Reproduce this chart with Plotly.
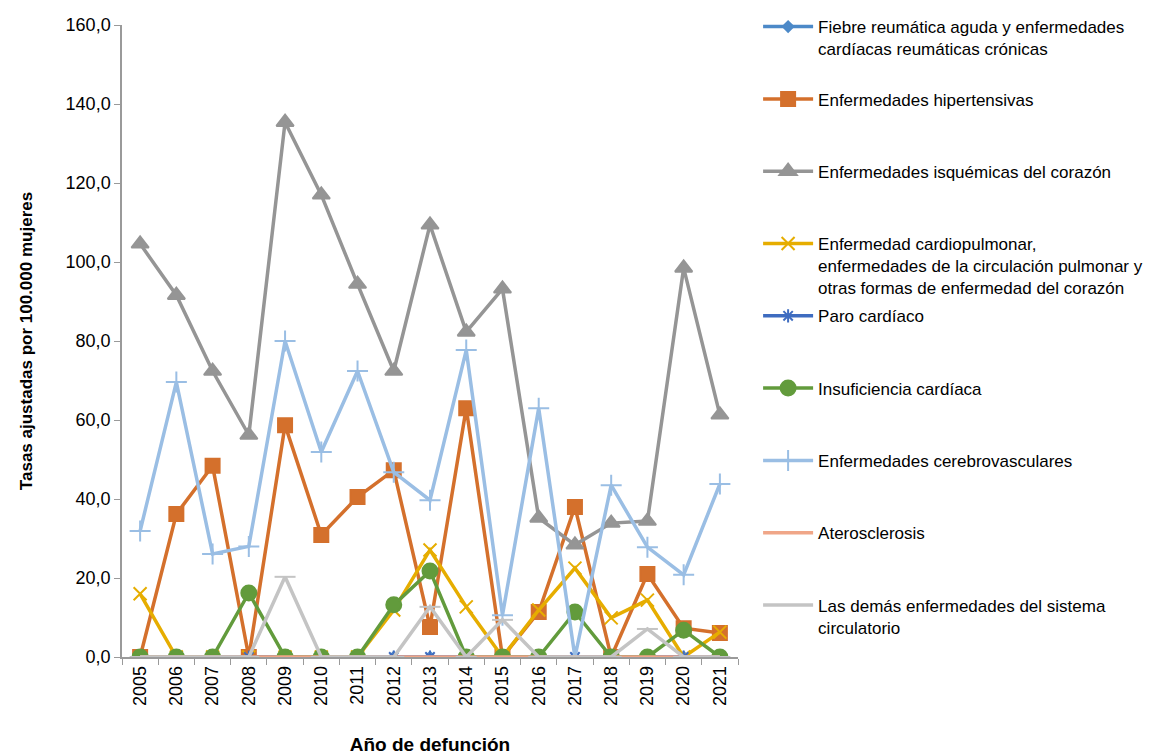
import plotly.graph_objects as go

years = [str(y) for y in range(2005, 2022)]

fiebre = [0.0] * 17
hipertensivas = [0.0, 36.2, 48.4, 0.0, 58.7, 30.9, 40.5, 47.3, 7.6, 63.0, 0.0, 11.4, 38.0, 0.0, 21.0, 7.3, 6.1]
isquemicas = [104.6, 91.6, 72.4, 56.2, 135.4, 117.0, 94.4, 72.4, 109.4, 82.3, 93.2, 35.2, 28.4, 33.9, 34.4, 98.5, 61.3]
cardiopulmonar = [16.0, 0.0, 0.0, 0.0, 0.0, 0.0, 0.0, 11.9, 27.1, 12.7, 0.0, 11.9, 22.5, 9.9, 14.4, 0.0, 6.3]
paro = [0.0] * 17
insuficiencia = [0.0, 0.0, 0.0, 16.2, 0.0, 0.0, 0.0, 13.2, 21.8, 0.0, 0.0, 0.0, 11.4, 0.0, 0.0, 6.8, 0.0]
cerebrovasculares = [31.9, 69.6, 26.1, 28.0, 80.0, 51.9, 72.4, 46.8, 39.7, 77.7, 10.6, 63.0, 0.0, 43.5, 27.8, 20.8, 43.8]
aterosclerosis = [0.0] * 17
demas = [0.0, 0.0, 0.0, 0.0, 20.3, 0.0, 0.0, 0.0, 12.7, 0.0, 9.4, 0.0, 0.0, 0.0, 7.1, 0.0, 0.0]

# label, values, colour, marker symbol, marker size
# labels padded to 3 lines so every legend entry takes the same height (as in Excel)
series = [
    ("Fiebre reumática aguda y enfermedades<br>cardíacas reumáticas crónicas<br> ", fiebre, "#4C89C8", "diamond", 8),
    ("Enfermedades hipertensivas<br> <br> ", hipertensivas, "#D4702C", "square", 14),
    ("Enfermedades isquémicas del corazón<br> <br> ", isquemicas, "#959595", "triangle-up", 15),
    ("Enfermedad cardiopulmonar,<br>enfermedades de la circulación pulmonar y<br>otras formas de enfermedad del corazón",
     cardiopulmonar, "#E6AD00", "x-thin", 13),
    ("Paro cardíaco<br> <br> ", paro, "#3E6CC0", "asterisk", 11),
    ("Insuficiencia cardíaca<br> <br> ", insuficiencia, "#629B3C", "circle", 15),
    ("Enfermedades cerebrovasculares<br> <br> ", cerebrovasculares, "#9ABEE4", "cross-thin", 15),
    ("Aterosclerosis<br> <br> ", aterosclerosis, "#F0A688", None, 0),
    ("Las demás enfermedades del sistema<br>circulatorio", demas, "#C4C4C4", "line-ew", 15),
]

font_family = "Liberation Sans, Arial"

fig = go.Figure()
for i, (name, vals, color, symbol, size) in enumerate(series):
    if symbol is None:
        mode = "lines"
        marker = None
    else:
        mode = "lines+markers"
        marker = dict(symbol=symbol, size=size, color=color,
                      line=dict(color=color, width=2))
    fig.add_trace(go.Scatter(
        x=years, y=vals, name=name, mode=mode,
        line=dict(color=color, width=3.5),
        marker=marker, legendgroup=str(i),
    ))

# the page body adds 8px, so margins are trimmed by that amount
fig.update_layout(
    width=1154, height=753,
    margin=dict(l=114, r=424, t=17, b=104),
    plot_bgcolor="white", paper_bgcolor="white",
    font=dict(family=font_family, size=18, color="black"),
    separators=",.",
    showlegend=True,
    legend=dict(
        xref="container", yref="container",
        x=0.65, y=0.9986, xanchor="left", yanchor="top",
        traceorder="grouped", tracegroupgap=3, valign="top",
        itemwidth=50, font=dict(size=17), maxheight=1.0,
    ),
)

fig.update_xaxes(
    type="category", range=[-0.5, 16.5], automargin=False,
    tickangle=-90, ticks="outside", tickson="boundaries", ticklen=6,
    tickcolor="#9A9A9A", showline=True, linecolor="#9A9A9A", linewidth=1.5,
    showgrid=False,
    title=dict(text="<b>Año de defunción</b>", font=dict(size=19), standoff=33),
)
fig.update_yaxes(
    range=[0, 160], dtick=20, tickformat=".1f", automargin=False,
    ticks="outside", ticklen=6, tickcolor="#9A9A9A",
    showline=True, linecolor="#9A9A9A", linewidth=1.5,
    showgrid=False, zeroline=False,
    title=dict(text="<b>Tasas ajustadas por 100.000 mujeres</b>", font=dict(size=17), standoff=29),
)

fig.write_html("out.html")
